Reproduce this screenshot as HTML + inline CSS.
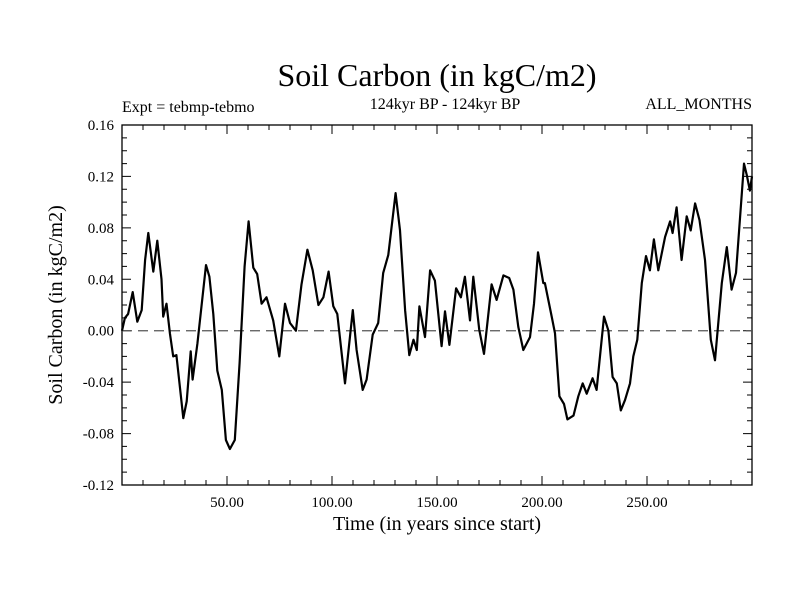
<!DOCTYPE html>
<html><head><meta charset="utf-8"><style>
body{margin:0;background:#fff}
svg text{font-family:"Liberation Serif",serif;fill:#000}
</style></head><body>
<svg id="c" width="800" height="600" xmlns="http://www.w3.org/2000/svg">
<text x="437" y="86" font-size="32" text-anchor="middle">Soil Carbon (in kgC/m2)</text>
<text x="445" y="109" font-size="16" text-anchor="middle">124kyr BP - 124kyr BP</text>
<text x="122" y="112" font-size="16">Expt = tebmp-tebmo</text>
<text x="752" y="109" font-size="16" text-anchor="end">ALL_MONTHS</text>
<text transform="translate(62,305) rotate(-90)" font-size="20" text-anchor="middle">Soil Carbon (in kgC/m2)</text>
<text x="437" y="530" font-size="20" text-anchor="middle">Time (in years since start)</text>
<g id="axes"></g>
<g id="plot"></g>
</svg>
<script>
const years=[0,1.4,2.9,5.1,7.3,9.4,11,12.5,14.9,16.8,18.8,19.6,21.2,22.8,24.4,25.9,29.2,30.8,32.7,33.6,35.9,40,41.6,43.5,45.4,47.5,49.5,51.4,53.7,56,58.4,60.3,62.5,64.4,66.5,68.8,72,74.9,77.6,80,82.8,85.5,88.3,90.8,93.5,95.9,98.4,100.6,102.5,106.2,109.9,111.7,114.6,116.5,119.4,122,124.4,126.8,130.3,132.4,134.8,136.8,138.8,140.4,141.6,144.3,146.7,149,152.2,153.8,155.9,159.1,161.4,163.3,165.7,167.3,170.1,172.4,176,178.4,181.6,184.4,186.4,188.7,191.1,194.3,196.2,198.1,200.6,201.4,204.6,206.2,208.3,210.5,212.1,215,217.3,219.4,221.3,224.1,226,229.5,231.6,233.6,235.6,237.5,239.5,241.9,243.5,245.4,247.5,249.5,251.4,253.3,255.4,258.6,261,262.2,264.1,266.5,268.9,270.8,272.9,275,277.6,280.4,282.4,285.6,288,290.3,292.4,296.2,297.5,299,300];
const values=[0,0.01,0.013,0.03,0.007,0.016,0.055,0.076,0.046,0.07,0.04,0.011,0.021,-0.002,-0.02,-0.019,-0.068,-0.055,-0.016,-0.038,-0.01,0.051,0.042,0.013,-0.031,-0.046,-0.085,-0.092,-0.085,-0.025,0.05,0.085,0.049,0.044,0.021,0.026,0.008,-0.02,0.021,0.006,0.0,0.036,0.063,0.047,0.02,0.026,0.046,0.019,0.013,-0.041,0.016,-0.015,-0.046,-0.038,-0.003,0.006,0.045,0.059,0.107,0.078,0.016,-0.019,-0.007,-0.015,0.019,-0.005,0.047,0.039,-0.012,0.015,-0.011,0.033,0.026,0.042,0.008,0.042,0.001,-0.018,0.036,0.024,0.043,0.041,0.032,0.003,-0.015,-0.005,0.021,0.061,0.037,0.037,0.011,-0.002,-0.051,-0.057,-0.069,-0.066,-0.051,-0.041,-0.049,-0.037,-0.046,0.011,0.0,-0.036,-0.041,-0.062,-0.054,-0.041,-0.02,-0.007,0.037,0.058,0.047,0.071,0.047,0.073,0.085,0.076,0.096,0.055,0.089,0.078,0.099,0.086,0.055,-0.007,-0.023,0.037,0.065,0.032,0.045,0.13,0.121,0.109,0.12];
const yTicks=[0.16,0.12,0.08,0.04,0.00,-0.04,-0.08,-0.12];
const xTicks=[50,100,150,200,250];
const L=122,R=752,T=125,B=485;
const xs=v=>L+(v-0)/(300-0)*(R-L);
const ys=v=>T+(0.16-v)/(0.28)*(B-T);
const NS='http://www.w3.org/2000/svg';
const ax=document.getElementById('axes'),pl=document.getElementById('plot');
function mk(tag,at,par){const e=document.createElementNS(NS,tag);for(const k in at)e.setAttribute(k,at[k]);par.appendChild(e);return e;}
const fr=mk('rect',{x:L,y:T,width:R-L,height:B-T,fill:'none',stroke:'#000','stroke-width':1.3},ax);


for(let i=0;i<=28;i++){const v=-0.12+i*0.01;const y=ys(v);const len=(i%4===0)?9:5;
 const t=mk('path',{d:`M${L} ${y}h${len}M${R} ${y}h${-len}`,stroke:'#000','stroke-width':1},ax);
 
 }
for(let v=10;v<300;v+=10){const x=xs(v);const len=(v%50===0)?9:5;
 const t=mk('path',{d:`M${x} ${B}v${-len}M${x} ${T}v${len}`,stroke:'#000','stroke-width':1},ax);
 
 }
yTicks.forEach(v=>{const t=mk('text',{x:L-8,y:ys(v)+5,'font-size':15,'text-anchor':'end'},ax);t.textContent=v.toFixed(2);
 
 });
xTicks.forEach(v=>{const t=mk('text',{x:xs(v),y:B+22,'font-size':15,'text-anchor':'middle'},ax);t.textContent=v.toFixed(2);
 
 });
const z=mk('line',{x1:L,x2:R,y1:ys(0),y2:ys(0),stroke:'#555','stroke-width':1.2,'stroke-dasharray':'10,6'},pl);


const d=years.map((yr,i)=>(i?'L':'M')+xs(yr).toFixed(1)+' '+ys(values[i]).toFixed(1)).join('');
const ln=mk('path',{d:d,fill:'none',stroke:'#000','stroke-width':2.2,'stroke-linejoin':'round'},pl);


</script>
</body></html>
